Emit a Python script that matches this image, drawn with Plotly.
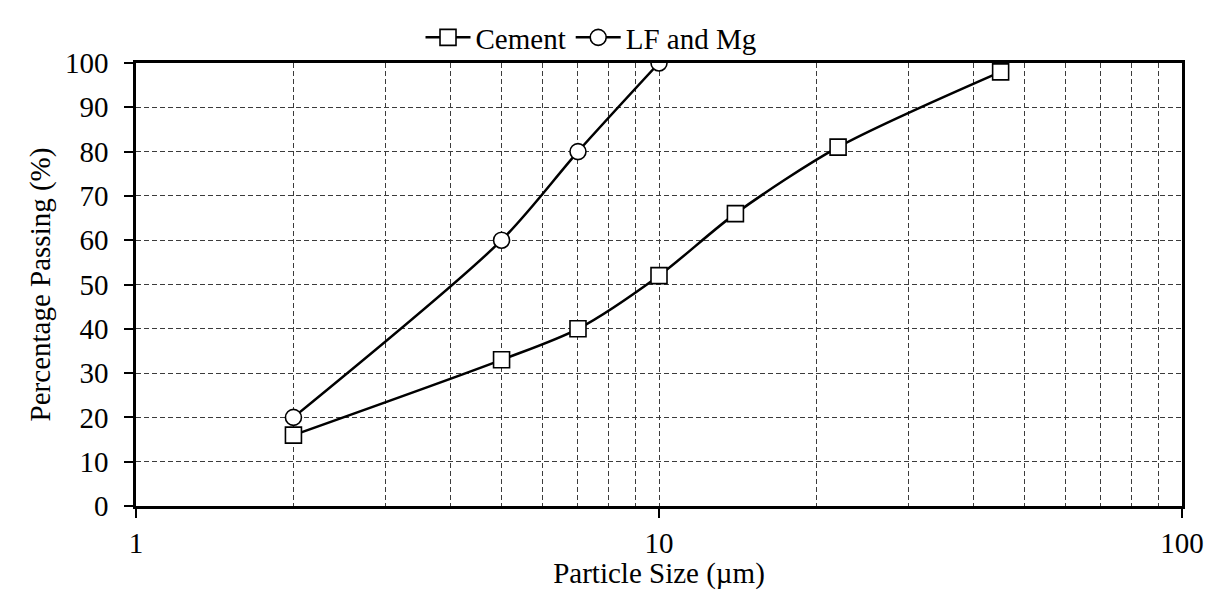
import plotly.graph_objects as go

cement_size = [2, 5, 7, 10, 14, 22, 45]
cement_pass = [16, 33, 40, 52, 66, 81, 98]
lf_size = [2, 5, 7, 10]
lf_pass = [20, 60, 80, 100]

x_tick_vals = [1, 10, 100]
x_tick_text = ["1", "10", "100"]
x_minor_vals = [2, 3, 4, 5, 6, 7, 8, 9, 20, 30, 40, 50, 60, 70, 80, 90]
y_tick_vals = list(range(0, 101, 10))

FONT = "Liberation Serif"
FS = 29
GRID = "#3c3c3c"
DASH = "5px,3px"

fig = go.Figure()
fig.add_trace(go.Scatter(
    x=cement_size, y=cement_pass, name="Cement", mode="lines+markers",
    line=dict(color="black", width=2.5, shape="spline", smoothing=0.8),
    marker=dict(symbol="square", size=16, color="white",
                line=dict(color="black", width=1.6)),
))
fig.add_trace(go.Scatter(
    x=lf_size, y=lf_pass, name="LF and Mg", mode="lines+markers",
    line=dict(color="black", width=2.5, shape="spline", smoothing=0.8),
    marker=dict(symbol="circle", size=16, color="white",
                line=dict(color="black", width=1.6)),
))

fig.update_layout(
    width=1216, height=590,
    margin=dict(l=136, r=34, t=45, b=84),
    plot_bgcolor="white", paper_bgcolor="white",
    font=dict(family=FONT, size=FS, color="black"),
    showlegend=True,
    legend=dict(orientation="h", x=0.435, xanchor="center", y=1.0, yanchor="bottom",
                font=dict(family=FONT, size=FS), bgcolor="rgba(0,0,0,0)",
                itemwidth=45, tracegroupgap=0),
)
fig.update_xaxes(
    type="log", range=[0, 2],
    tickmode="array", tickvals=x_tick_vals, ticktext=x_tick_text,
    ticks="outside", ticklen=9, tickwidth=1.5, tickcolor="black",
    showline=True, linecolor="black", linewidth=2.5, mirror=True,
    showgrid=True, gridcolor=GRID, gridwidth=1.4, griddash=DASH,
    minor=dict(tickmode="array", tickvals=x_minor_vals, showgrid=True,
               gridcolor=GRID, gridwidth=1.4, griddash=DASH, ticks=""),
    title=dict(text="Particle Size (µm)", font=dict(family=FONT, size=FS), standoff=0),
    tickfont=dict(family=FONT, size=FS),
    zeroline=False,
)
fig.update_yaxes(
    range=[0, 100], tickmode="array", tickvals=y_tick_vals,
    ticks="outside", ticklen=9, tickwidth=1.5, tickcolor="black",
    showline=True, linecolor="black", linewidth=2.5, mirror=True,
    showgrid=True, gridcolor=GRID, gridwidth=1.4, griddash=DASH,
    title=dict(text="Percentage Passing (%)", font=dict(family=FONT, size=FS), standoff=6),
    tickfont=dict(family=FONT, size=FS),
    ticklabelstandoff=10,
    zeroline=False,
)

fig.write_html("out.html")
